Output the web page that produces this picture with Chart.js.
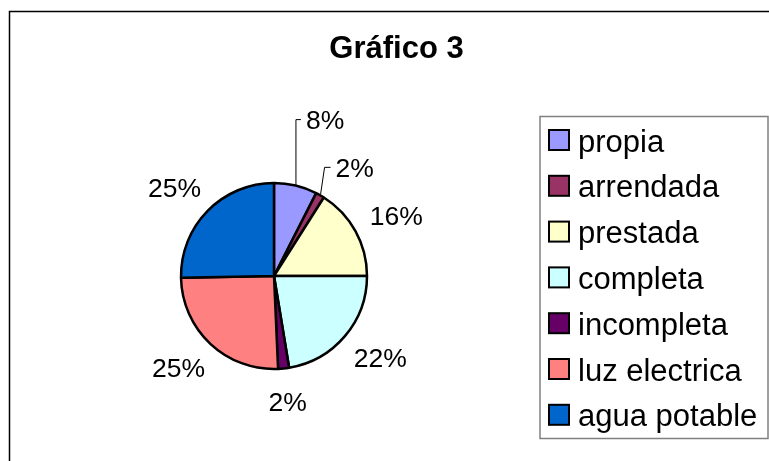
<!DOCTYPE html>
<html>
<head>
<meta charset="utf-8">
<script src="https://cdn.jsdelivr.net/npm/chart.js@4/dist/chart.umd.min.js"></script>
<style>
  html, body { margin: 0; padding: 0; background: #ffffff; }
  #wrap { width: 769px; height: 461px; position: relative; }
</style>
</head>
<body>
<div id="wrap"><canvas id="c" width="769" height="461"></canvas></div>
<script>
// ---- data ----
const chartTitle = 'Gráfico 3';
const categories = ['propia', 'arrendada', 'prestada', 'completa', 'incompleta', 'luz electrica', 'agua potable'];
const values = [7.5, 1.5, 16.0, 22.4, 1.9, 25.4, 25.3];
const sliceColors = ['#9999FF', '#993366', '#FFFFCC', '#CCFFFF', '#660066', '#FF8080', '#0066CC'];

const FONT = '"Liberation Sans", Arial, Helvetica, sans-serif';

const decorPlugin = {
  id: 'decor',
  afterDraw(chart, args, opts) {
    const ctx = chart.ctx;
    const meta = chart.getDatasetMeta(0);
    const data = chart.data.datasets[0].data;
    const total = data.reduce((a, b) => a + b, 0);
    ctx.save();

    // outer frame
    ctx.strokeStyle = '#000000';
    ctx.lineWidth = 1.5;
    ctx.strokeRect(9.5, 11.5, 820, 520);

    // title
    ctx.fillStyle = '#000000';
    ctx.font = 'bold 31px ' + FONT;
    ctx.textAlign = 'center';
    ctx.textBaseline = 'alphabetic';
    ctx.fillText(chartTitle, 396.5, 58);

    // percentage labels
    ctx.font = '26.5px ' + FONT;
    const capHalf = 26.5 * 0.358;
    meta.data.forEach((arc, i) => {
      const p = arc.getProps(['x', 'y', 'startAngle', 'endAngle', 'outerRadius'], true);
      const mid = (p.startAngle + p.endAngle) / 2;
      const dx = Math.cos(mid), dy = Math.sin(mid);
      const txt = Math.round(data[i] / total * 100) + '%';
      const w = ctx.measureText(txt).width;
      const leader = opts.leaders[i];
      if (leader) {
        const ex = p.x + dx * (p.outerRadius + 1);
        const ey = p.y + dy * (p.outerRadius + 1);
        const tx = ex + leader.lean;
        const ty = ey - leader.rise;
        ctx.strokeStyle = '#000000';
        ctx.lineWidth = 1;
        ctx.beginPath();
        ctx.moveTo(ex, ey);
        ctx.lineTo(tx, ty);
        ctx.lineTo(tx + leader.run, ty);
        ctx.stroke();
        ctx.textAlign = 'left';
        ctx.fillText(txt, tx + leader.run + 5, ty + capHalf);
      } else {
        const r = p.outerRadius + opts.labelGap;
        const cx = p.x + dx * r + dx * w / 2;
        const cy = p.y + dy * r + dy * 13;
        ctx.textAlign = 'center';
        ctx.fillText(txt, cx, cy + capHalf);
      }
    });

    // legend
    const lg = opts.legend;
    ctx.strokeStyle = '#808080';
    ctx.lineWidth = 1.5;
    ctx.strokeRect(lg.x, lg.y, lg.w, lg.h);
    ctx.font = '31px ' + FONT;
    ctx.textAlign = 'left';
    ctx.textBaseline = 'alphabetic';
    chart.data.labels.forEach((lab, i) => {
      const cy = lg.firstRow + i * lg.rowStep;
      ctx.fillStyle = chart.data.datasets[0].backgroundColor[i];
      ctx.fillRect(lg.boxX, cy - 10, 20, 20);
      ctx.strokeStyle = '#000000';
      ctx.lineWidth = 2;
      ctx.strokeRect(lg.boxX, cy - 10, 20, 20);
      ctx.fillStyle = '#000000';
      ctx.fillText(lab, lg.textX, cy + 11.5);
    });
    ctx.restore();
  }
};

new Chart(document.getElementById('c'), {
  type: 'pie',
  data: {
    labels: categories,
    datasets: [{
      data: values,
      backgroundColor: sliceColors,
      borderColor: '#000000',
      borderWidth: 2.5,
      hoverOffset: 0
    }]
  },
  options: {
    responsive: false,
    animation: false,
    radius: 93,
    layout: { padding: { left: 0, right: 221, top: 91, bottom: 0 } },
    plugins: {
      legend: { display: false },
      title: { display: false },
      tooltip: { enabled: false },
      decor: {
        labelGap: 20,
        leaders: { 0: { rise: 65, lean: 0, run: 5 }, 1: { rise: 27, lean: 4, run: 6 } },
        legend: { x: 540, y: 116.5, w: 228, h: 322, boxX: 549, textX: 578, firstRow: 140, rowStep: 45.8 }
      }
    }
  },
  plugins: [decorPlugin]
});
</script>
</body>
</html>
